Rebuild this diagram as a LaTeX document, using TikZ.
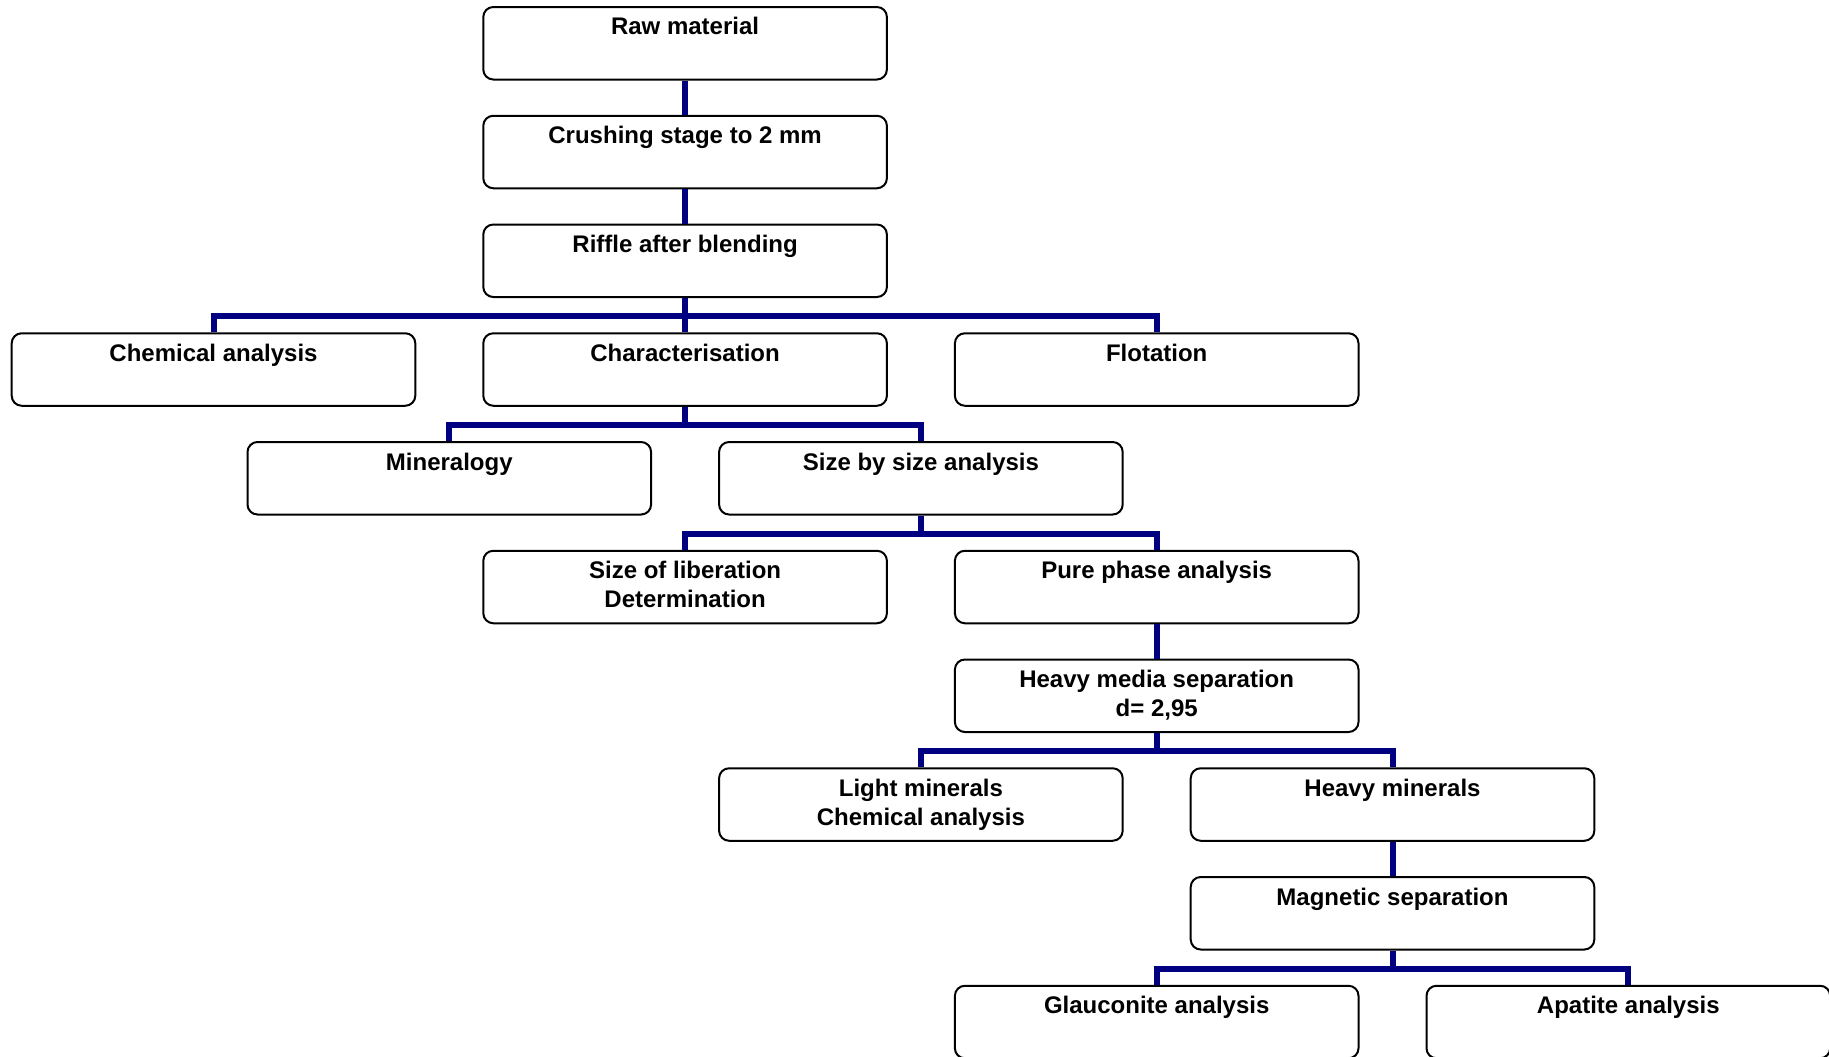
\documentclass[tikz,border=0pt]{standalone}
\usepackage{fontspec}
\setmainfont{Liberation Sans}
\definecolor{navyline}{RGB}{0,0,128}
\tikzset{
  box/.style={draw=black, line width=1pt, rounded corners=5pt, fill=white,
    minimum width=201.8pt, minimum height=36.25pt, anchor=north, inner sep=0pt},
  lbl/.style={anchor=north, inner sep=0pt, align=center,
    font=\bfseries\fontsize{12}{14.5}\selectfont},
  conn/.style={draw=navyline, line width=3pt, line join=miter}
}
\begin{document}
\begin{tikzpicture}[x=0.5pt,y=-0.5pt]
\useasboundingbox (0,0) rectangle (1829,1056);
% columns: 213.5 + 235.8k ; rows: 6 + 108.75r
\node[box] (raw)   at (685.1,6) {};
\node[box] (crush) at (685.1,114.75) {};
\node[box] (riff)  at (685.1,223.5) {};
\node[box] (chem)  at (213.5,332.25) {};
\node[box] (char)  at (685.1,332.25) {};
\node[box] (flot)  at (1156.7,332.25) {};
\node[box] (mine)  at (449.3,441) {};
\node[box] (size)  at (920.9,441) {};
\node[box] (lib)   at (685.1,549.75) {};
\node[box] (pure)  at (1156.7,549.75) {};
\node[box] (hms)   at (1156.7,658.5) {};
\node[box] (light) at (920.9,767.25) {};
\node[box] (heavy) at (1392.5,767.25) {};
\node[box] (mag)   at (1392.5,876) {};
\node[box] (glau)  at (1156.7,984.75) {};
\node[box] (apat)  at (1628.3,984.75) {};

\node[lbl] (rawT)   at ([yshift=-5.6pt]raw.north)   {Raw material};
\node[lbl] (crushT) at ([yshift=-5.6pt]crush.north) {Crushing stage to 2 mm};
\node[lbl] (riffT)  at ([yshift=-5.6pt]riff.north)  {Riffle after blending};
\node[lbl] (chemT)  at ([yshift=-5.6pt]chem.north)  {Chemical analysis};
\node[lbl] (charT)  at ([yshift=-5.6pt]char.north)  {Characterisation};
\node[lbl] (flotT)  at ([yshift=-5.6pt]flot.north)  {Flotation};
\node[lbl] (mineT)  at ([yshift=-5.6pt]mine.north)  {Mineralogy};
\node[lbl] (sizeT)  at ([yshift=-5.6pt]size.north)  {Size by size analysis};
\node[lbl] (libT)   at ([yshift=-5.6pt]lib.north)   {Size of liberation\\Determination};
\node[lbl] (pureT)  at ([yshift=-5.6pt]pure.north)  {Pure phase analysis};
\node[lbl] (hmsT)   at ([yshift=-5.6pt]hms.north)   {Heavy media separation\\d= 2,95};
\node[lbl] (lightT) at ([yshift=-5.6pt]light.north) {Light minerals\\Chemical analysis};
\node[lbl] (heavyT) at ([yshift=-5.6pt]heavy.north) {Heavy minerals};
\node[lbl] (magT)   at ([yshift=-5.6pt]mag.north)   {Magnetic separation};
\node[lbl] (glauT)  at ([yshift=-5.6pt]glau.north)  {Glauconite analysis};
\node[lbl] (apatT)  at ([yshift=-5.6pt]apat.north)  {Apatite analysis};

\draw[conn] (raw.south) -- (crush.north);
\draw[conn] (crush.south) -- (riff.north);
\draw[conn] (riff.south) -- ++(0,18.1) -| (chem.north);
\draw[conn] (riff.south) -- (char.north);
\draw[conn] (riff.south) -- ++(0,18.1) -| (flot.north);
\draw[conn] (char.south) -- ++(0,18.1) -| (mine.north);
\draw[conn] (char.south) -- ++(0,18.1) -| (size.north);
\draw[conn] (size.south) -- ++(0,18.1) -| (lib.north);
\draw[conn] (size.south) -- ++(0,18.1) -| (pure.north);
\draw[conn] (pure.south) -- (hms.north);
\draw[conn] (hms.south) -- ++(0,18.1) -| (light.north);
\draw[conn] (hms.south) -- ++(0,18.1) -| (heavy.north);
\draw[conn] (heavy.south) -- (mag.north);
\draw[conn] (mag.south) -- ++(0,18.1) -| (glau.north);
\draw[conn] (mag.south) -- ++(0,18.1) -| (apat.north);
\end{tikzpicture}
\end{document}
